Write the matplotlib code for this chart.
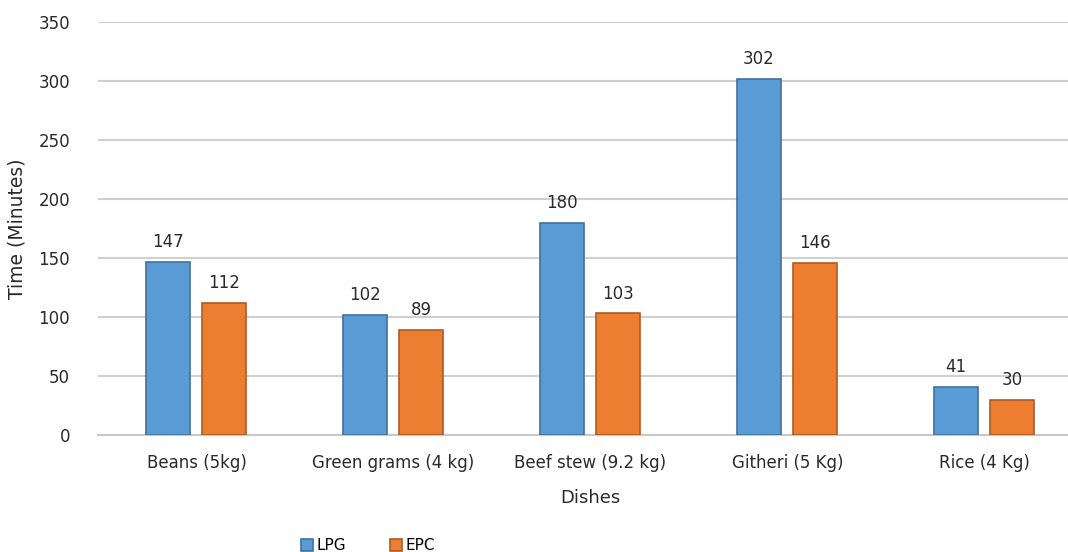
import numpy as np
import matplotlib.pyplot as plt

dishes = ['Beans (5kg)', 'Green grams (4 kg)', 'Beef stew (9.2 kg)', 'Githeri (5 Kg)', 'Rice (4 Kg)']
lpg = [147, 102, 180, 302, 41]
epc = [112, 89, 103, 146, 30]

plt.rcParams['font.family'] = ['DejaVu Sans']
txt = '#2a2a2a'

fig = plt.figure(figsize=(10.68, 5.52), dpi=100)
ax = fig.add_axes([98 / 1068, 117 / 552, 985 / 1068, 413 / 552])

x = np.arange(len(dishes))
w = 0.22
b1 = ax.bar(x - 0.145, lpg, w, color='#5B9BD5', edgecolor='#41719C', linewidth=1.2, label='LPG', zorder=3)
b2 = ax.bar(x + 0.14, epc, w, color='#ED7D31', edgecolor='#AE5A21', linewidth=1.2, label='EPC', zorder=3)

for bars, vals in [(b1, lpg), (b2, epc)]:
    for bar, v in zip(bars, vals):
        ax.text(bar.get_x() + bar.get_width() / 2, v + 9, str(v), ha='center', va='bottom',
                fontsize=12, color=txt)

ax.set_xlim(-0.5, 4.5)
ax.set_ylim(0, 350)
ax.set_yticks(range(0, 351, 50))
ax.set_xticks(x)
ax.set_xticklabels(dishes, fontsize=12, color=txt)
ax.tick_params(axis='y', labelsize=12, labelcolor=txt, length=0, pad=20)
ax.tick_params(axis='x', length=0, pad=14)
ax.grid(axis='y', color='#D0D0D0', linewidth=1.5, zorder=0)
for s in ['top', 'right', 'left']:
    ax.spines[s].set_visible(False)
ax.spines['bottom'].set_color('#C8C8C8')
ax.spines['bottom'].set_linewidth(1.5)

ax.set_xlabel('Dishes', fontsize=13, color=txt, labelpad=12)
ax.set_ylabel('Time (Minutes)', fontsize=13.5, color=txt, labelpad=9)

fig.legend(loc='center', bbox_to_anchor=(368 / 1068, 6 / 552), ncol=2, frameon=False,
           fontsize=11, handlelength=0.8, handleheight=0.8, columnspacing=2.9, handletextpad=0.2)

fig.savefig('out.png', dpi=100)
